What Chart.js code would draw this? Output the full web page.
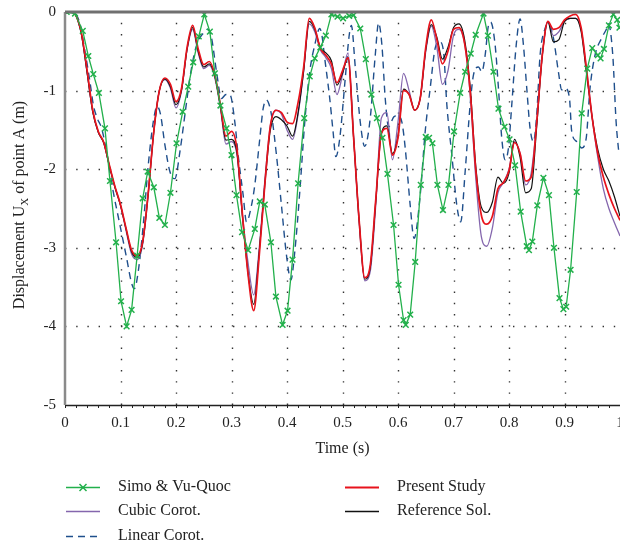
<!DOCTYPE html>
<html><head><meta charset="utf-8">
<script src="https://cdn.jsdelivr.net/npm/chart.js@4.4.1/dist/chart.umd.min.js"></script>
<style>html,body{margin:0;padding:0;overflow:hidden;background:#fff}#wrap{width:640px;height:550px}</style>
</head><body><div id="wrap"><canvas id="c" width="640" height="550"></canvas></div>
<script>
// ---------- data ----------
const timeGrid = [0,0.01,0.02,0.03,0.04,0.05,0.06,0.07,0.08,0.09,
0.10,0.11,0.12,0.13,0.14,0.15,0.16,0.17,0.18,0.19,
0.20,0.21,0.22,0.23,0.24,0.25,0.26,0.27,0.28,0.29,
0.30,0.31,0.32,0.33,0.34,0.35,0.36,0.37,0.38,0.39,
0.40,0.41,0.42,0.43,0.44,0.45,0.46,0.47,0.48,0.49,
0.50,0.51,0.52,0.53,0.54,0.55,0.56,0.57,0.58,0.59,
0.60,0.61,0.62,0.63,0.64,0.65,0.66,0.67,0.68,0.69,
0.70,0.71,0.72,0.73,0.74,0.75,0.76,0.77,0.78,0.79,
0.80,0.81,0.82,0.83,0.84,0.85,0.86,0.87,0.88,0.89,
0.90,0.91,0.92,0.93,0.94,0.95,0.96,0.97,0.98,0.99,1.00];

const presentStudy = [0,0,-0.05,-0.28,-0.75,-1.25,-1.52,-1.66,-1.95,-2.22,
-2.45,-2.75,-3.03,-3.1,-2.92,-2.3,-1.52,-1.0,-0.84,-0.92,
-1.14,-0.97,-0.45,-0.17,-0.47,-0.67,-0.63,-0.8,-1.18,-1.58,
-1.52,-1.75,-2.6,-3.35,-3.8,-3.1,-2.2,-1.45,-1.25,-1.28,
-1.4,-1.42,-1.15,-0.7,-0.08,-0.2,-0.46,-0.55,-0.66,-0.9,
-0.75,-0.58,-1.6,-2.65,-3.38,-3.22,-2.38,-1.55,-1.48,-1.82,
-1.6,-1.0,-1.05,-1.25,-1.1,-0.45,-0.1,-0.35,-0.66,-0.5,
-0.22,-0.2,-0.4,-1.0,-2.0,-2.58,-2.7,-2.6,-2.25,-2.17,
-2.02,-1.66,-1.8,-2.15,-2.1,-1.4,-0.55,-0.12,-0.22,-0.2,
-0.1,-0.05,-0.03,-0.2,-0.75,-1.35,-1.8,-2.1,-2.32,-2.5,-2.65];

const referenceSol = [0,0,-0.05,-0.3,-0.78,-1.27,-1.53,-1.67,-1.96,-2.23,
-2.46,-2.76,-3.05,-3.12,-2.93,-2.3,-1.52,-1.0,-0.85,-0.95,
-1.18,-0.99,-0.47,-0.2,-0.5,-0.7,-0.66,-0.82,-1.2,-1.63,
-1.62,-1.8,-2.62,-3.33,-3.72,-3.05,-2.2,-1.5,-1.33,-1.37,
-1.45,-1.58,-1.28,-0.75,-0.12,-0.22,-0.45,-0.52,-0.62,-0.93,
-0.78,-0.58,-1.6,-2.65,-3.4,-3.25,-2.4,-1.55,-1.45,-1.8,
-1.58,-0.98,-1.05,-1.25,-1.1,-0.48,-0.16,-0.32,-0.6,-0.45,
-0.2,-0.15,-0.35,-0.95,-1.95,-2.48,-2.55,-2.42,-2.1,-2.18,
-2.05,-1.62,-1.85,-2.3,-2.25,-1.45,-0.55,-0.12,-0.38,-0.35,
-0.12,-0.08,-0.08,-0.25,-0.8,-1.35,-1.75,-2.0,-2.15,-2.35,-2.6];

const cubicCorot = [0,0,-0.05,-0.3,-0.78,-1.27,-1.53,-1.67,-1.96,-2.23,
-2.46,-2.78,-3.08,-3.15,-2.95,-2.32,-1.52,-1.0,-0.86,-0.97,
-1.22,-1.0,-0.48,-0.22,-0.52,-0.72,-0.68,-0.84,-1.22,-1.68,
-1.65,-1.82,-2.6,-3.2,-3.6,-3.0,-2.15,-1.45,-1.25,-1.3,
-1.5,-1.62,-1.3,-0.75,-0.15,-0.25,-0.48,-0.58,-0.72,-1.05,
-0.8,-0.52,-1.58,-2.68,-3.42,-3.3,-2.45,-1.35,-1.28,-1.88,
-1.4,-0.78,-1.0,-1.25,-1.1,-0.5,-0.18,-0.45,-0.92,-0.75,
-0.3,-0.22,-0.4,-1.05,-2.1,-2.85,-2.98,-2.75,-2.3,-2.17,
-2.0,-1.65,-1.8,-2.2,-2.05,-1.4,-0.55,-0.13,-0.3,-0.25,
-0.12,-0.08,-0.08,-0.22,-0.75,-1.35,-1.85,-2.25,-2.5,-2.68,-2.85];

const linearT = [0,0.015,0.027,0.036,0.045,0.051,0.058,0.066,0.075,0.087,0.099,0.111,0.12,0.125,0.132,0.141,0.15,0.159,0.166,0.172,
0.18,0.189,0.198,0.207,0.216,0.225,0.234,0.243,0.252,0.257,0.264,0.273,0.282,0.29,0.297,0.306,0.312,0.321,0.327,0.336,
0.342,0.351,0.357,0.363,0.372,0.381,0.39,0.399,0.407,0.414,0.423,0.432,0.441,0.45,0.459,0.463,0.468,0.477,0.483,0.488,
0.495,0.505,0.512,0.516,0.523,0.532,0.54,0.55,0.559,0.565,0.571,0.577,0.583,0.593,0.6,0.607,0.613,0.622,0.629,0.64,
0.649,0.658,0.667,0.675,0.682,0.688,0.697,0.706,0.713,0.721,0.73,0.736,0.745,0.751,0.757,0.763,0.767,0.775,0.781,0.787,
0.793,0.799,0.805,0.813,0.82,0.826,0.832,0.838,0.844,0.85,0.856,0.865,0.871,0.88,0.889,0.895,0.901,0.909,0.913,0.922,
0.931,0.939,0.946,0.955,0.967,0.976,0.979,0.987,0.993,0.998];
const linearCorot = [0,0,-0.15,-0.5,-0.89,-1.18,-1.35,-1.48,-1.78,-2.29,-2.71,-3.13,-3.45,-3.52,-3.3,-2.71,-1.95,-1.4,-1.2,-1.3,
-1.69,-2.03,-2.12,-1.78,-1.31,-0.84,-0.5,-0.33,-0.25,-0.22,-0.33,-0.76,-1.1,-1.05,-1.05,-1.4,-1.82,-2.33,-2.67,-2.46,
-2.2,-1.61,-1.23,-1.12,-1.31,-1.82,-2.46,-3.09,-3.41,-3.05,-2.29,-1.4,-0.76,-0.42,-0.21,-0.3,-0.59,-1.1,-1.52,-1.84,
-1.61,-0.84,-0.3,-0.17,-0.7,-1.4,-1.71,-1.35,-0.55,-0.14,-0.42,-1.1,-1.46,-1.33,-1.32,-1.4,-1.73,-2.46,-2.88,-2.33,
-1.52,-0.97,-0.46,-0.38,-0.5,-1.18,-1.82,-2.46,-2.67,-2.03,-1.18,-0.8,-0.7,-0.76,-0.55,-0.17,-0.13,-0.42,-0.97,-1.61,
-1.88,-1.73,-1.18,-0.42,-0.09,-0.42,-0.97,-1.48,-1.65,-1.3,-0.55,-0.21,-0.14,-0.33,-0.76,-0.99,-0.97,-1.1,-1.52,-1.65,
-1.73,-1.61,-0.97,-0.55,-0.33,-0.21,-0.15,-0.55,-1.4,-1.8];

const simoT = [0.003,0.018,0.032,0.042,0.051,0.061,0.072,0.081,0.092,0.101,
0.111,0.120,0.130,0.140,0.149,0.160,0.170,0.180,0.190,0.201,
0.212,0.222,0.231,0.241,0.251,0.261,0.270,0.280,0.291,0.300,
0.309,0.319,0.330,0.342,0.351,0.360,0.371,0.380,0.392,0.401,
0.410,0.420,0.431,0.441,0.450,0.460,0.470,0.480,0.491,0.501,
0.512,0.520,0.532,0.542,0.552,0.562,0.572,0.581,0.592,0.601,
0.610,0.614,0.622,0.631,0.641,0.650,0.656,0.662,0.671,0.681,
0.691,0.701,0.712,0.721,0.731,0.740,0.754,0.762,0.772,0.781,
0.792,0.801,0.811,0.821,0.832,0.836,0.842,0.851,0.862,0.872,
0.881,0.891,0.898,0.903,0.911,0.922,0.931,0.941,0.950,0.960,
0.965,0.971,0.980,0.988,0.995,0.999];
const simoVuQuoc = [0,-0.02,-0.24,-0.56,-0.79,-1.03,-1.48,-2.15,-2.93,-3.68,
-4.0,-3.79,-3.1,-2.37,-2.03,-2.23,-2.62,-2.71,-2.3,-1.67,
-1.27,-0.95,-0.64,-0.31,-0.03,-0.25,-0.78,-1.19,-1.48,-1.82,
-2.33,-2.8,-3.03,-2.76,-2.41,-2.45,-2.93,-3.62,-3.98,-3.8,
-3.15,-2.18,-1.35,-0.82,-0.59,-0.45,-0.3,-0.03,-0.06,-0.08,
-0.05,-0.04,-0.21,-0.6,-1.05,-1.35,-1.6,-2.06,-2.71,-3.47,
-3.92,-3.98,-3.85,-3.18,-2.2,-1.59,-1.6,-1.67,-2.2,-2.52,
-2.2,-1.52,-1.03,-0.76,-0.53,-0.29,-0.02,-0.3,-0.76,-1.23,
-1.46,-1.62,-1.95,-2.54,-2.98,-3.03,-2.92,-2.46,-2.11,-2.33,
-3.0,-3.64,-3.78,-3.75,-3.28,-2.29,-1.29,-0.72,-0.46,-0.55,
-0.59,-0.47,-0.17,-0.03,-0.1,-0.2];

const legendLabels = ['Simo & Vu-Quoc','Cubic Corot.','Linear Corot.','Present Study','Reference Sol.'];
const xTitle = 'Time (s)';
const yTitleParts = ['Displacement U','X',' of point A (m)'];

// ---------- styles ----------
const FONT = '"Liberation Serif","Times New Roman",serif';
const C = {green:'#22b04b', purple:'#8466ad', blue:'#1f4f8c', red:'#e8131c', black:'#111111'};
function pts(t,v){return t.map((x,i)=>({x:x,y:v[i]}));}

const decor = {
  id:'decor',
  beforeDatasetsDraw(chart){
    const {ctx, chartArea:a, scales:{x,y}} = chart;
    ctx.save();
    ctx.strokeStyle='#333'; ctx.lineWidth=1.4; ctx.setLineDash([1.4,9.8]);
    x.ticks.forEach(t=>{ if(t.value<=0||t.value>=1) return;
      const px=Math.round(x.getPixelForValue(t.value))+0.5;
      ctx.beginPath(); ctx.moveTo(px,a.bottom); ctx.lineTo(px,a.top); ctx.stroke();});
    y.ticks.forEach(t=>{ if(t.value<=-5||t.value>=0) return;
      const py=Math.round(y.getPixelForValue(t.value))+0.5;
      ctx.beginPath(); ctx.moveTo(a.left,py); ctx.lineTo(a.right,py); ctx.stroke();});
    ctx.restore();
  },
  afterDatasetsDraw(chart){
    const {ctx, chartArea:a, scales:{x,y}} = chart;
    ctx.save();
    ctx.strokeStyle='#222'; ctx.lineWidth=1.5;
    ctx.beginPath(); ctx.moveTo(a.left,a.bottom+0.5); ctx.lineTo(a.right+20,a.bottom+0.5); ctx.stroke();
    ctx.lineWidth=1;
    for(let i=0;i<=50;i++){ const px=Math.round(x.getPixelForValue(i*0.02))+0.5;
      ctx.beginPath(); ctx.moveTo(px,a.bottom); ctx.lineTo(px,a.bottom+3); ctx.stroke(); }
    ctx.strokeStyle='#8a8a8a'; ctx.lineWidth=2.5;
    ctx.beginPath(); ctx.moveTo(a.left,a.top); ctx.lineTo(a.left,a.bottom); ctx.stroke();
    ctx.strokeStyle='#707070'; ctx.lineWidth=3;
    ctx.beginPath(); ctx.moveTo(a.left,a.top); ctx.lineTo(a.right+20,a.top); ctx.stroke();
    ctx.restore();
  },
  afterDraw(chart){
    const {ctx, chartArea:a} = chart;
    ctx.save();
    ctx.fillStyle='#222';
    ctx.font='16px '+FONT; ctx.textAlign='center'; ctx.textBaseline='middle';
    ctx.fillText(xTitle,(a.left+a.right)/2,449);
    ctx.translate(20,205); ctx.rotate(-Math.PI/2);
    ctx.textAlign='left';
    ctx.font='16px '+FONT; const w1=ctx.measureText(yTitleParts[0]).width, w3=ctx.measureText(yTitleParts[2]).width;
    ctx.font='11px '+FONT; const w2=ctx.measureText(yTitleParts[1]).width;
    let sx=-(w1+w2+w3)/2;
    ctx.font='16px '+FONT; ctx.fillText(yTitleParts[0],sx,0); sx+=w1;
    ctx.font='11px '+FONT; ctx.fillText(yTitleParts[1],sx,5); sx+=w2;
    ctx.font='16px '+FONT; ctx.fillText(yTitleParts[2],sx,0);
    ctx.restore();
    ctx.save();
    const items=[
      {label:legendLabels[0],color:C.green,x:66,y:487,marker:true,w:1.5},
      {label:legendLabels[1],color:C.purple,x:66,y:511,w:1.5},
      {label:legendLabels[2],color:C.blue,x:66,y:536,dash:[7,5],w:1.5},
      {label:legendLabels[3],color:C.red,x:345,y:487,w:1.8},
      {label:legendLabels[4],color:C.black,x:345,y:511,w:1.5}];
    items.forEach(it=>{
      ctx.strokeStyle=it.color; ctx.lineWidth=it.w; ctx.setLineDash(it.dash||[]);
      ctx.beginPath(); ctx.moveTo(it.x,it.y+0.5); ctx.lineTo(it.x+34,it.y+0.5); ctx.stroke();
      ctx.setLineDash([]);
      if(it.marker){ const cx=it.x+17, cy=it.y+0.5, r=3.5;
        ctx.beginPath(); ctx.moveTo(cx-r,cy-r); ctx.lineTo(cx+r,cy+r); ctx.moveTo(cx-r,cy+r); ctx.lineTo(cx+r,cy-r); ctx.stroke(); }
      ctx.fillStyle='#222'; ctx.font='16px '+FONT; ctx.textAlign='left'; ctx.textBaseline='middle';
      ctx.fillText(it.label,it.x+52,it.y);
    });
    ctx.restore();
  }
};

const smooth = {pointRadius:0, cubicInterpolationMode:'monotone', fill:false};
new Chart(document.getElementById('c'),{
  type:'line',
  data:{datasets:[
    Object.assign({label:legendLabels[0],data:pts(simoT,simoVuQuoc),borderColor:C.green,borderWidth:1.3,
      pointStyle:'crossRot',pointRadius:4,pointBorderColor:C.green,pointBorderWidth:1.5,tension:0,fill:false,order:1}),
    Object.assign({label:legendLabels[3],data:pts(timeGrid,presentStudy),borderColor:C.red,borderWidth:1.7,order:2},smooth),
    Object.assign({label:legendLabels[4],data:pts(timeGrid,referenceSol),borderColor:C.black,borderWidth:1.2,order:3},smooth),
    Object.assign({label:legendLabels[1],data:pts(timeGrid,cubicCorot),borderColor:C.purple,borderWidth:1.3,order:4},smooth),
    Object.assign({label:legendLabels[2],data:pts(linearT,linearCorot),borderColor:C.blue,borderWidth:1.4,borderDash:[7,5],order:5},smooth)
  ]},
  options:{
    responsive:false, animation:false, devicePixelRatio:1,
    layout:{padding:{left:0,right:20,top:12,bottom:0}},
    plugins:{legend:{display:false},tooltip:{enabled:false}},
    scales:{
      x:{type:'linear',min:0,max:1,
        afterFit(s){s.height=145;},
        grid:{display:false,drawTicks:false},border:{display:false},
        ticks:{stepSize:0.1,padding:9,color:'#222',font:{family:FONT,size:15},maxRotation:0,
          callback:v=>String(Math.round(v*10)/10)}},
      y:{type:'linear',min:-5,max:0,
        afterFit(s){s.width=65; s.paddingTop=0; s.paddingBottom=0;},
        grid:{display:false,drawTicks:false},border:{display:false},
        ticks:{stepSize:1,padding:9,color:'#222',font:{family:FONT,size:15},
          callback:v=>String(v)}}
    }
  },
  plugins:[decor]
});
</script></body></html>
